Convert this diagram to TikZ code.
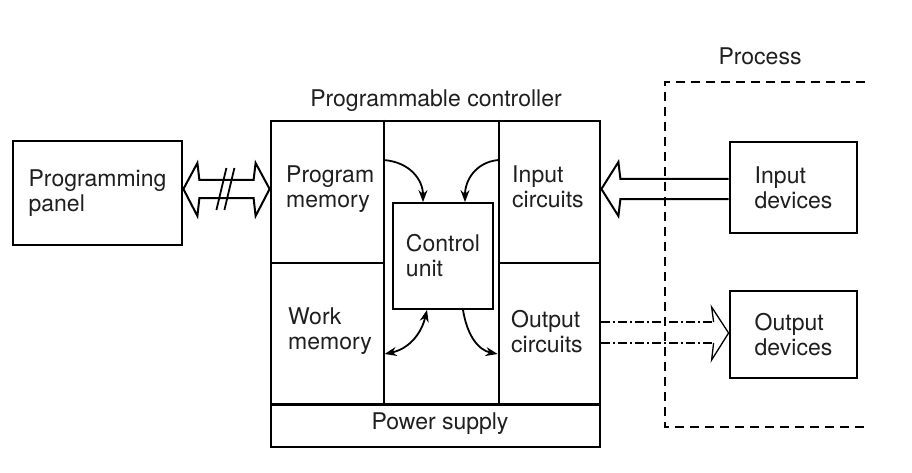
\documentclass[tikz,border=0pt]{standalone}
\usepackage{fontspec}
\setmainfont{TeX Gyre Heros}
\usetikzlibrary{arrows.meta,calc}
\begin{document}
\begin{tikzpicture}[x=1pt,y=-1pt,
  every node/.style={inner sep=0pt, align=left, font=\fontsize{23}{25}\selectfont, text=black!88},
  box/.style={draw, line width=2.8pt},
  thinline/.style={line width=1.8pt},
  carrow/.style={line width=1.8pt, -{Stealth[length=12pt,width=9pt]}},
  darrow/.style={line width=1.8pt, {Stealth[length=12pt,width=9pt]}-{Stealth[length=12pt,width=9pt]}},
  hollow/.style={line width=2pt, line join=miter},
  outshaft/.style={line width=1.5pt, dash pattern=on 9pt off 3pt on 2pt off 3pt},
  procline/.style={line width=1.6pt, dash pattern=on 9pt off 6pt}]
\path[use as bounding box, fill=white] (0,0) rectangle (912,473);

% boxes
\node[box, minimum width=169pt, minimum height=104pt] (panel) at (97.5,193) {Programming\\panel};
\node[box, minimum width=329pt, minimum height=326pt] (plc) at (435.5,284) {};
\node[box, line width=1.8pt, minimum width=100pt, minimum height=106pt] (cu) at (443,256) {Control\\unit};
\node[box, minimum width=127pt, minimum height=91pt] (indev) at (793.5,187.5) {Input\\devices};
\node[box, minimum width=127pt, minimum height=87pt] (outdev) at (793.5,334.5) {Output\\devices};

% labels
\node (title) at (436,101) {Programmable controller};
\node (proc) at (760,56) {Process};
\node[anchor=west] (pm) at (286,189) {Program\\memory};
\node[anchor=west] (ic) at (512,187) {Input\\circuits};
\node[anchor=west] (wm) at (288,331) {Work\\memory};
\node[anchor=west] (oc) at (511,332) {Output\\circuits};
\node (ps) at (440,424) {Power supply};

% interior lines of the controller
\coordinate (c1t) at ($(plc.north west)+(114,0)$);
\coordinate (c2t) at ($(plc.north west)+(229,0)$);
\coordinate (psl) at ($(plc.south west)+(0,-44)$);
\coordinate (psr) at ($(plc.south east)+(0,-44)$);
\draw[thinline] (c1t) -- (c1t |- psl);
\draw[thinline] (c2t) -- (c2t |- psl);
\draw[line width=2.6pt] (psl) -- (psr);
\draw[thinline] (plc.west |- 0,263) -- (c1t |- 0,263);
\draw[thinline] (c2t |- 0,263) -- (plc.east |- 0,263);

% curved arrows around control unit
\draw[carrow] (c1t |- 0,160) .. controls (410,162) and (423,180) .. ($(cu.north)+(-20,0)$);
\draw[carrow] (c2t |- 0,160) .. controls (476,162) and (465,180) .. ($(cu.north)+(22,0)$);
\draw[darrow] ($(cu.south)+(-16,0)$) .. controls (421,335) and (408,349) .. ($(c1t |- 0,354)+(1,0)$);
\draw[carrow] ($(cu.south)+(20,0)$) .. controls (467,335) and (478,350) .. ($(c2t |- 0,354)+(-1,0)$);

% double hollow arrow panel <-> controller
\coordinate (dl) at (panel.east |- 0,189);
\coordinate (dr) at (plc.west |- 0,189);
\draw[hollow] (dl) -- ($(dl)+(14,-26)$) -- ($(dl)+(16,-9)$) -- ($(dr)+(-16,-9)$) -- ($(dr)+(-14,-26)$) -- (dr)
  -- ($(dr)+(-14,27)$) -- ($(dr)+(-16,9)$) -- ($(dl)+(16,9)$) -- ($(dl)+(14,27)$) -- cycle;
\draw[line width=1.8pt] ($(dl)+(33,21)$) -- ($(dl)+(43,-21)$);
\draw[line width=1.8pt] ($(dl)+(41,21)$) -- ($(dl)+(51,-21)$);

% input hollow arrow
\coordinate (il) at (plc.east |- 0,189);
\coordinate (ir) at (indev.west |- 0,189);
\draw[hollow] ($(ir)+(0,-10)$) -- ($(il)+(19,-10)$) -- ($(il)+(17,-27)$) -- (il)
  -- ($(il)+(17,27)$) -- ($(il)+(19,10)$) -- ($(ir)+(0,10)$);

% output dashed hollow arrow
\coordinate (ol) at (plc.east |- 0,333);
\coordinate (ot) at (outdev.west |- 0,333);
\draw[outshaft] ($(ol)+(0,-11)$) -- ($(ot)+(-15,-11)$);
\draw[outshaft] ($(ol)+(0,10)$) -- ($(ot)+(-15,10)$);
\draw[line width=1.3pt, line join=miter] ($(ot)+(-15,-11)$) -- ($(ot)+(-17,-26)$) -- (ot) -- ($(ot)+(-17,27)$) -- ($(ot)+(-15,10)$);

% process boundary
\draw[procline] (865,82) -- (665,82) -- (665,427) -- (865,427);
\end{tikzpicture}
\end{document}
